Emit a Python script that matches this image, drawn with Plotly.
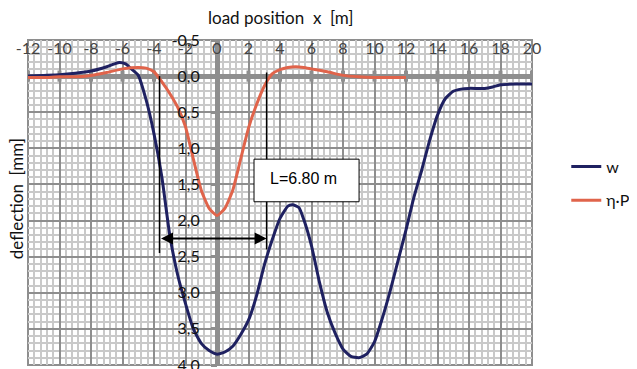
import plotly.graph_objects as go

# ---- data ----
x_w = [-12, -11, -10, -9, -8, -7, -6.5, -6.2, -5.8, -5.5, -5, -4.5, -4, -3.5, -3, -2.5, -2, -1.5,
       -1, -0.5, 0, 0.5, 1, 1.5, 2, 2.5, 3, 3.5, 4, 4.5, 4.8, 5.2, 5.5, 6, 6.5, 7, 7.5, 8, 8.5,
       9, 9.5, 10, 10.5, 11, 11.5, 12, 12.5, 13, 13.5, 14, 14.5, 15, 15.5, 16, 17, 17.5, 18, 19, 20]
w = [0.0, -0.01, -0.02, -0.04, -0.07, -0.13, -0.17, -0.19, -0.17, -0.11, -0.01, 0.33, 0.8, 1.4,
     2.2, 2.75, 3.15, 3.5, 3.7, 3.8, 3.85, 3.82, 3.74, 3.58, 3.38, 3.05, 2.62, 2.27, 1.97, 1.8,
     1.78, 1.82, 1.98, 2.35, 2.85, 3.27, 3.56, 3.78, 3.88, 3.9, 3.85, 3.68, 3.35, 2.97, 2.55,
     2.13, 1.68, 1.3, 0.89, 0.54, 0.31, 0.21, 0.18, 0.17, 0.17, 0.15, 0.12, 0.11, 0.11]

x_eta = [-12, -11, -10, -9, -8, -7, -6, -5, -4.5, -4, -3.5, -3, -2.5, -2, -1.5, -1, -0.5, 0,
         0.5, 1, 1.5, 2, 2.5, 3, 3.5, 4, 4.5, 5, 5.5, 6, 7, 8, 9, 10, 11, 12]
eta = [0.02, 0.02, 0.01, 0.01, -0.01, -0.05, -0.1, -0.12, -0.11, -0.06, 0.08, 0.24, 0.43, 0.7,
       1.15, 1.58, 1.83, 1.93, 1.83, 1.58, 1.15, 0.72, 0.4, 0.14, -0.03, -0.09, -0.12, -0.13,
       -0.12, -0.1, -0.06, -0.01, 0.01, 0.02, 0.02, 0.02]

x_ticks = [-12, -10, -8, -6, -4, -2, 0, 2, 4, 6, 8, 10, 12, 14, 16, 18, 20]
x_labels = ["-12", "-10", "-8", "-6", "-4", "-2", "0", "2", "4", "6", "8", "10", "12", "14",
            "16", "18", "20"]
y_ticks = [-0.5, 0.0, 0.5, 1.0, 1.5, 2.0, 2.5, 3.0, 3.5, 4.0]
y_labels = ["-0,5", "0,0", "0,5", "1,0", "1,5", "2,0", "2,5", "3,0", "3,5", "4,0"]

span_left = -3.65
span_right = 3.15
span_label = "L=6.80 m"
arrow_y = 2.25

# ---- styles ----
NAVY = "#1F2161"
ORANGE = "#E0644B"
MAJOR = "#8E8E8E"
MINOR = "#C9C9C9"
AXIS = "#8E8E8E"
FONT = "Lato, 'Noto Sans', sans-serif"
X_MIN, X_MAX = -12, 20
Y_MIN, Y_MAX = -0.5, 4.0
PAGE_OFFSET = 8  # default body margin of the html page

fig = go.Figure()

# tick marks on the horizontal zero axis
fig.add_trace(go.Scatter(
    x=x_ticks, y=[0] * len(x_ticks), mode="markers",
    marker=dict(symbol="line-ns", size=8, line=dict(width=4, color=AXIS)),
    showlegend=False, hoverinfo="skip"))

fig.add_trace(go.Scatter(
    x=x_w, y=w, mode="lines", name="w", legendgroup="w",
    line=dict(color=NAVY, width=3, shape="spline", smoothing=0.5)))
fig.add_trace(go.Scatter(
    x=x_eta, y=eta, mode="lines", name="η·P", legendgroup="eta",
    line=dict(color=ORANGE, width=3, shape="spline", smoothing=0.5)))

fig.update_layout(
    width=637 - PAGE_OFFSET, height=369 - PAGE_OFFSET,
    margin=dict(l=28 - PAGE_OFFSET, r=105, t=40 - PAGE_OFFSET, b=4, autoexpand=False),
    paper_bgcolor="white", plot_bgcolor="white",
    font=dict(family=FONT, size=16, color="#111111"),
    xaxis=dict(
        range=[X_MIN, X_MAX], side="top", tickmode="array",
        tickvals=x_ticks, ticktext=x_labels, ticklabelposition="inside", ticks="",
        ticklabeloverflow="allow",
        showgrid=True, gridcolor=MAJOR, gridwidth=2,
        minor=dict(tick0=X_MIN, dtick=0.4, showgrid=True, gridcolor=MINOR, gridwidth=2),
        zeroline=True, zerolinecolor=AXIS, zerolinewidth=5, showline=False,
        automargin=False, tickfont=dict(size=16)),
    yaxis=dict(
        range=[Y_MAX, Y_MIN], anchor="free",
        position=(0 - X_MIN) / (X_MAX - X_MIN), side="left",
        tickmode="array", tickvals=y_ticks, ticktext=[t + "\u2002" for t in y_labels],
        ticks="outside", ticklen=6, tickwidth=3, tickcolor=AXIS,
        ticklabeloverflow="allow",
        showgrid=True, gridcolor=MAJOR, gridwidth=2,
        minor=dict(tick0=0, dtick=0.1, showgrid=True, gridcolor=MINOR, gridwidth=2),
        zeroline=True, zerolinecolor=AXIS, zerolinewidth=5, showline=False,
        automargin=False, tickfont=dict(size=16)),
    legend=dict(x=1.068, y=0.663, xanchor="left", yanchor="top",
                font=dict(size=16), tracegroupgap=10, bgcolor="rgba(0,0,0,0)"),
    showlegend=True,
)

shapes = [
    dict(type="rect", xref="paper", yref="paper", x0=0, x1=1, y0=0, y1=1,
         line=dict(color=MAJOR, width=2), layer="below"),
    dict(type="line", xref="x", yref="y", x0=span_left, x1=span_left, y0=0.0, y1=2.45,
         line=dict(color="black", width=1.5)),
    dict(type="line", xref="x", yref="y", x0=span_right, x1=span_right, y0=-0.05, y1=2.4,
         line=dict(color="black", width=1.5)),
    dict(type="rect", xref="x", yref="y", x0=2.35, x1=9.02, y0=1.15, y1=1.74,
         fillcolor="white", line=dict(color="black", width=1), layer="above"),
]
fig.update_layout(shapes=shapes)

annotations = [
    dict(x=span_right, y=arrow_y, ax=span_left, ay=arrow_y, xref="x", yref="y",
         axref="x", ayref="y", text="", showarrow=True, arrowhead=2, arrowside="end+start",
         arrowwidth=2, arrowsize=1.2, arrowcolor="black", standoff=0, startstandoff=0),
    dict(x=5.5, y=1.42, xref="x", yref="y", text=span_label, showarrow=False,
         font=dict(family="Liberation Sans, Arial, sans-serif", size=16, color="black")),
    dict(x=0.5, y=1 + 22 / 325, xref="paper", yref="paper",
         text="load position\u00a0 x\u00a0 [m]", showarrow=False,
         xanchor="center", yanchor="middle", font=dict(size=17)),
    dict(x=-12 / 504, y=0.51, xref="paper", yref="paper", text="deflection\u00a0 [mm]",
         textangle=-90, showarrow=False, xanchor="center", yanchor="middle",
         font=dict(size=17)),
]
fig.update_layout(annotations=annotations)

fig.write_html("out.html")
